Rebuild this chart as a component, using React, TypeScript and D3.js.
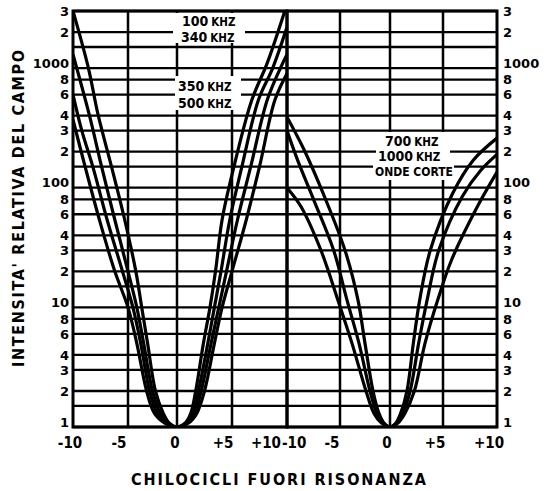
import React from 'react';
import * as d3 from 'd3';

type P = [number, number];

// horizontal grid (log) values and labelled ticks
const gridValues = [1, 1.5, 2, 3, 4, 6, 8, 10, 15, 20, 30, 40, 60, 80, 100, 150, 200, 300, 400, 600, 800, 1000, 1500, 2000, 3000];
const tickValues = [1, 2, 3, 4, 6, 8, 10, 20, 30, 40, 60, 80, 100, 200, 300, 400, 600, 800, 1000, 2000, 3000];
const xTicks = [-10, -5, 0, 5, 10];
const xTickLabels = ['-10', '-5', '0', '+5', '+10'];

// left panel curves: [kHz off resonance, relative field intensity]
const curve100kHz: P[] = [[-10, 3000], [-8.6, 1000], [-7.7, 400], [-6.5, 150], [-5.3, 54], [-4.2, 20], [-3.6, 10], [-3.0, 5], [-2.2, 2], [-1.4, 1.3], [-0.8, 1.08], [0, 1], [0.75, 1.08], [1.25, 1.3], [1.7, 2], [2.4, 5], [3.0, 10], [3.5, 20], [4.1, 54], [5.1, 140], [6.8, 540], [8.2, 1100], [9.8, 3000]];
const curve340kHz: P[] = [[-10, 1300], [-8.5, 400], [-7.4, 150], [-6.2, 54], [-5.0, 20], [-4.1, 10], [-3.4, 5], [-2.5, 2], [-1.7, 1.3], [-0.95, 1.08], [0, 1], [0.85, 1.08], [1.45, 1.3], [1.95, 2], [2.8, 5], [3.4, 10], [4.0, 20], [4.8, 54], [5.9, 150], [7.4, 540], [8.7, 1000], [10, 2200]];
const curve350kHz: P[] = [[-10, 600], [-9.2, 300], [-8.2, 150], [-6.9, 54], [-5.5, 20], [-4.5, 10], [-3.7, 5], [-2.8, 2], [-2.0, 1.3], [-1.1, 1.08], [0, 1], [0.95, 1.08], [1.6, 1.3], [2.2, 2], [3.1, 5], [3.8, 10], [4.5, 20], [5.5, 54], [6.7, 150], [8.2, 540], [9.4, 1000], [10, 1300]];
const curve500kHz: P[] = [[-10, 370], [-8.9, 150], [-7.6, 54], [-6.2, 20], [-5.0, 10], [-4.1, 5], [-3.1, 2], [-2.3, 1.3], [-1.25, 1.08], [0, 1], [1.05, 1.08], [1.8, 1.3], [2.5, 2], [3.4, 5], [4.1, 10], [5.0, 20], [6.3, 54], [7.5, 150], [8.9, 540], [10, 900]];

// right panel curves
const curve700kHz: P[] = [[-10, 390], [-8.3, 200], [-6.6, 90], [-4.5, 30], [-3.2, 11.5], [-2.5, 5], [-1.7, 2], [-1.1, 1.3], [-0.6, 1.08], [0, 1], [0.55, 1.08], [1.0, 1.3], [1.6, 2], [2.2, 5], [2.8, 11.5], [3.8, 30], [5.9, 90], [7.8, 170], [10, 260]];
const curve1000kHz: P[] = [[-10, 300], [-9, 170], [-7.5, 80], [-5.6, 30], [-4.3, 11.5], [-3.1, 5], [-2.0, 2], [-1.3, 1.3], [-0.7, 1.08], [0, 1], [0.65, 1.08], [1.2, 1.3], [1.9, 2], [2.7, 5], [3.5, 11.5], [4.6, 30], [6.8, 85], [8.5, 140], [10, 190]];
const curveOndeCorte: P[] = [[-10, 100], [-8.7, 70], [-6.8, 30], [-5.2, 11.5], [-3.8, 5], [-2.4, 2], [-1.6, 1.3], [-0.85, 1.08], [0, 1], [0.75, 1.08], [1.4, 1.3], [2.3, 2], [3.3, 5], [4.5, 11.5], [5.8, 25], [8.2, 70], [10, 135]];

const leftCurves = [curve100kHz, curve340kHz, curve350kHz, curve500kHz];
const rightCurves = [curve700kHz, curve1000kHz, curveOndeCorte];

const FONT = "'DejaVu Sans Condensed', 'DejaVu Sans', sans-serif";
const FONT_WIDE = "'DejaVu Sans', sans-serif";

export default function App() {
  const W = 545, H = 491;
  const top = 11, bottom = 427;
  const y = d3.scaleLog().domain([1, 3000]).range([bottom, top]);
  const xL = d3.scaleLinear().domain([-10, -5, 0, 5, 10]).range([73, 128, 177, 232, 287]);
  const xR = d3.scaleLinear().domain([-10, -5, 0, 5, 10]).range([287, 340, 390, 443, 497]);
  const lineL = d3.line<P>().x(d => xL(d[0])).y(d => y(d[1])).curve(d3.curveCatmullRom.alpha(0.5));
  const lineR = d3.line<P>().x(d => xR(d[0])).y(d => y(d[1])).curve(d3.curveCatmullRom.alpha(0.5));

  const isDecade = (v: number) => Math.abs(Math.log10(v) - Math.round(Math.log10(v))) < 1e-9;
  const tickText = (v: number) => (isDecade(v) ? String(v) : String(Math.round(v / Math.pow(10, Math.floor(Math.log10(v))))));

  const x0 = xL(-10), x1 = xR(10);

  const kLabel = (num: string, x: number, yy: number) => (
    <text x={x} y={yy} dy="0.36em" fontFamily={FONT} fontWeight="bold" fill="#000">
      <tspan fontSize={14}>{num}</tspan>
      <tspan fontSize={11.5} dx={3}>KHZ</tspan>
    </text>
  );

  return (
    <svg width={W} height={H} style={{ position: 'absolute', left: 0, top: 0, background: '#fff' }}>
      <defs>
        <clipPath id="clipL"><rect x={xL(-10)} y={top} width={xL(10) - xL(-10)} height={bottom - top} /></clipPath>
        <clipPath id="clipR"><rect x={xR(-10)} y={top} width={xR(10) - xR(-10)} height={bottom - top} /></clipPath>
      </defs>
      <rect x={0} y={0} width={W} height={H} fill="#fff" />

      {/* horizontal grid */}
      {gridValues.map(v => (
        <line key={'h' + v} x1={x0} x2={x1} y1={y(v)} y2={y(v)} stroke="#000" strokeWidth={2.3} />
      ))}
      {/* vertical grid */}
      {[-5, 0, 5].map(v => (
        <line key={'vl' + v} x1={xL(v)} x2={xL(v)} y1={top} y2={bottom} stroke="#000" strokeWidth={2.5} />
      ))}
      {[-5, 0, 5].map(v => (
        <line key={'vr' + v} x1={xR(v)} x2={xR(v)} y1={top} y2={bottom} stroke="#000" strokeWidth={2.5} />
      ))}

      {/* label backgrounds */}
      <rect x={173} y={13} width={72} height={30} fill="#fff" />
      <rect x={175} y={76} width={66} height={34} fill="#fff" />
      <rect x={383} y={132} width={67} height={16} fill="#fff" />
      <rect x={376} y={148} width={74} height={15} fill="#fff" />
      <rect x={373} y={163} width={81} height={17} fill="#fff" />

      {kLabel('100', 182, 20)}
      {kLabel('340', 181, 36)}
      {kLabel('350', 178, 85)}
      {kLabel('500', 178, 102)}
      {kLabel('700', 385, 140)}
      {kLabel('1000', 378, 155.5)}
      <text x={375} y={172} dy="0.36em" fontFamily={FONT} fontWeight="bold" fontSize={12} fill="#000">ONDE CORTE</text>

      {/* curves */}
      <g clipPath="url(#clipL)">
        {leftCurves.map((c, i) => (
          <path key={'cl' + i} d={lineL(c) || ''} fill="none" stroke="#000" strokeWidth={3.2} strokeLinejoin="round" />
        ))}
      </g>
      <g clipPath="url(#clipR)">
        {rightCurves.map((c, i) => (
          <path key={'cr' + i} d={lineR(c) || ''} fill="none" stroke="#000" strokeWidth={3.2} strokeLinejoin="round" />
        ))}
      </g>

      {/* frames */}
      <rect x={xL(-10)} y={top} width={xL(10) - xL(-10)} height={bottom - top} fill="none" stroke="#000" strokeWidth={3} />
      <rect x={xR(-10)} y={top} width={xR(10) - xR(-10)} height={bottom - top} fill="none" stroke="#000" strokeWidth={3} />

      {/* y tick labels */}
      {tickValues.map(v => (
        <text key={'tl' + v} x={69} y={y(v) - (isDecade(v) ? 5 : 0)} dy="0.36em" textAnchor="end" fontFamily={FONT_WIDE} fontWeight="bold" fontSize={13} fill="#000">{tickText(v)}</text>
      ))}
      {tickValues.map(v => (
        <text key={'tr' + v} x={503} y={y(v) - (isDecade(v) ? 5 : 0)} dy="0.36em" textAnchor="start" fontFamily={FONT_WIDE} fontWeight="bold" fontSize={13} fill="#000">{tickText(v)}</text>
      ))}

      {/* x tick labels */}
      {xTicks.map((v, i) => {
        const anchor = i === 4 ? 'end' : 'middle';
        const xx = i === 4 ? xL(v) - 6 : i === 0 ? xL(v) - 3 : xL(v) + (v === 0 ? -2 : -9);
        return <text key={'xl' + v} x={xx} y={443} dy="0.36em" textAnchor={anchor} fontFamily={FONT} fontWeight="bold" fontSize={15} fill="#000">{xTickLabels[i]}</text>;
      })}
      {xTicks.map((v, i) => {
        const anchor = i === 0 ? 'start' : 'middle';
        const xx = i === 0 ? xR(v) - 5 : xR(v) + (v === 0 ? -3 : -8);
        return <text key={'xr' + v} x={xx} y={443} dy="0.36em" textAnchor={anchor} fontFamily={FONT} fontWeight="bold" fontSize={15} fill="#000">{xTickLabels[i]}</text>;
      })}

      {/* axis titles */}
      <text x={131} y={485} fontFamily={FONT} fontWeight="bold" fontSize={16} fill="#000" textLength={295} lengthAdjust="spacing">CHILOCICLI  FUORI  RISONANZA</text>
      <text transform="translate(24,367) rotate(-90)" x={0} y={0} fontFamily={FONT} fontWeight="bold" fontSize={16} fill="#000" textLength={317} lengthAdjust="spacing">INTENSITA'  RELATIVA  DEL  CAMPO</text>
    </svg>
  );
}
